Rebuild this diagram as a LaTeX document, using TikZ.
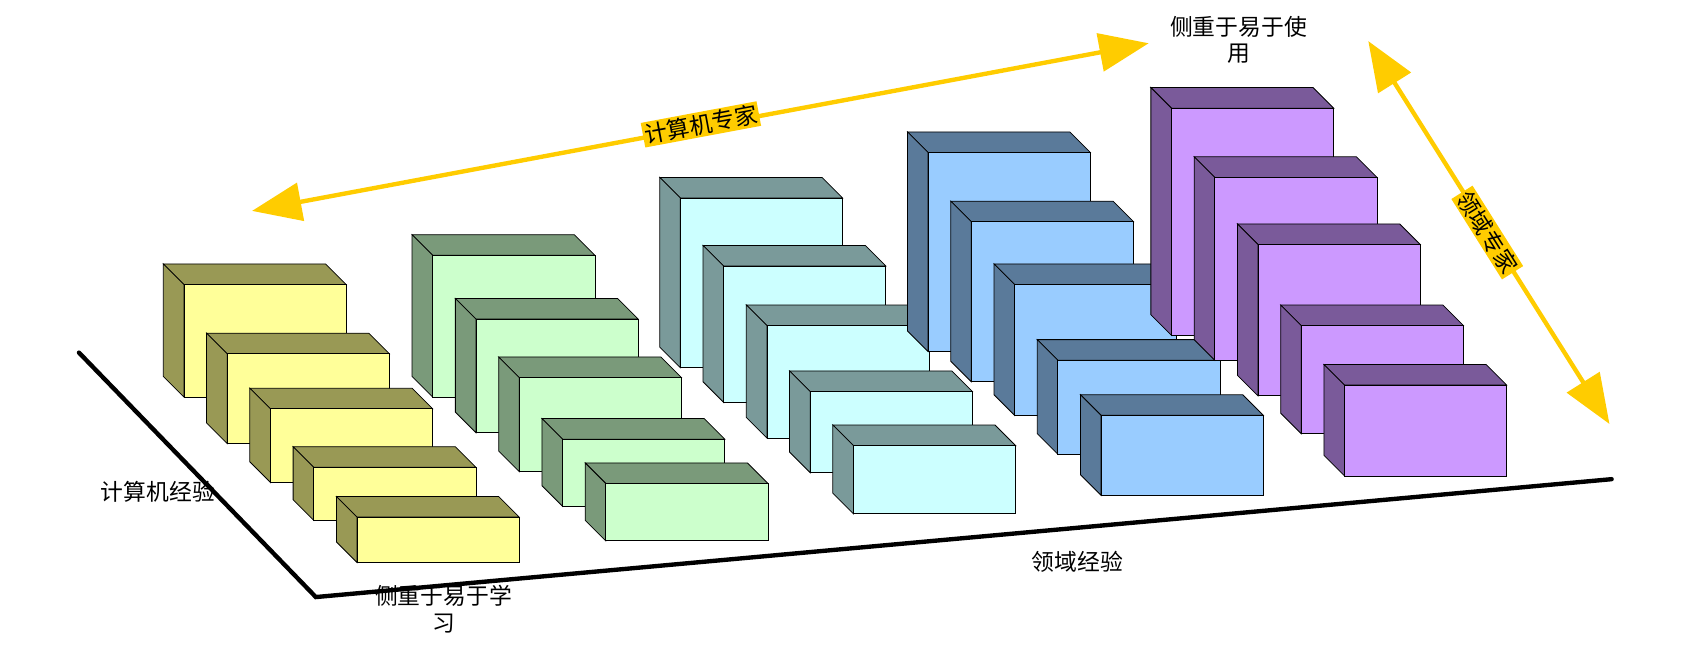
\documentclass[tikz,border=0pt]{standalone}
\usepackage{fontspec}
\setmainfont{Noto Sans CJK SC}
\usetikzlibrary{arrows.meta}
\definecolor{ylwF}{HTML}{FFFF99}\definecolor{ylwS}{HTML}{999955}
\definecolor{grnF}{HTML}{CCFFCC}\definecolor{grnS}{HTML}{7A9A7A}
\definecolor{cynF}{HTML}{CCFFFF}\definecolor{cynS}{HTML}{7A9A9A}
\definecolor{bluF}{HTML}{99CCFF}\definecolor{bluS}{HTML}{5A7A9A}
\definecolor{prpF}{HTML}{CC99FF}\definecolor{prpS}{HTML}{7A5A9A}
\definecolor{gold}{HTML}{FFCC00}
% cuboid: front rectangle corners, front colour, side colour
\newcommand{\cuboid}[6]{%
  \filldraw[draw=black, fill=#6, line width=0.4pt] (#1,#2) -- ++(-19,-19) -- ++(#3-#1,0) -- (#3,#2) -- cycle;
  \filldraw[draw=black, fill=#6, line width=0.4pt] (#1,#2) -- ++(-19,-19) -- ++(0,#4-#2) -- (#1,#4) -- cycle;
  \filldraw[draw=black, fill=#5, line width=0.4pt] (#1,#2) rectangle (#3,#4);}
\tikzset{
  axis/.style={line width=2.3pt, line cap=round},
  expert/.style={gold, line width=2.3pt, {Triangle[length=26pt,width=20pt]}-{Triangle[length=26pt,width=20pt]}},
  tag/.style={fill=gold, inner sep=1pt, font=\fontsize{12}{14}\selectfont},
  lbl/.style={align=center, font=\fontsize{12}{14}\selectfont}
}
\begin{document}
\begin{tikzpicture}[x=0.02cm, y=-0.02cm]
\useasboundingbox (0,0) rectangle (1568,614);
\draw[axis] (73,326) -- (292,552) -- (1490,443);
\foreach \xa/\ya/\xb/\yb in {170/263/320/367, 210/327/360/410, 250/378/400/446, 290/432/440/481, 330/478/480/520}
  {\cuboid{\xa}{\ya}{\xb}{\yb}{ylwF}{ylwS}}
\foreach \xa/\ya/\xb/\yb in {400/236/550/367, 440/295/590/400, 480/349/630/436, 520/406/670/468, 560/447/710/500}
  {\cuboid{\xa}{\ya}{\xb}{\yb}{grnF}{grnS}}
\foreach \xa/\ya/\xb/\yb in {629/183/779/340, 669/246/819/372, 709/301/859/405, 749/362/899/437, 789/412/939/475}
  {\cuboid{\xa}{\ya}{\xb}{\yb}{cynF}{cynS}}
\foreach \xa/\ya/\xb/\yb in {858/141/1008/325, 898/205/1048/353, 938/263/1088/384, 978/333/1128/420, 1018/384/1168/458}
  {\cuboid{\xa}{\ya}{\xb}{\yb}{bluF}{bluS}}
\foreach \xa/\ya/\xb/\yb in {1083/100/1233/310, 1123/164/1273/333, 1163/226/1313/366, 1203/301/1353/401, 1243/356/1393/440}
  {\cuboid{\xa}{\ya}{\xb}{\yb}{prpF}{prpS}}
% axis labels
\node[lbl] (cexp) at (146,455) {计算机经验};
\node[lbl] (dexp) at (996,519) {领域经验};
\node[lbl] (learn) at (410,563) {侧重于易于学\\习};
\node[lbl] (use) at (1145,37) {侧重于易于使\\用};
% experts
\coordinate (ca) at (233,195); \coordinate (cb) at (1062,40);
\coordinate (da) at (1265,38); \coordinate (db) at (1488,392);
\draw[expert] (ca) -- (cb);
\draw[expert] (da) -- (db);
\node[tag, rotate=10.6] (cs) at (648,115) {计算机专家};
\node[tag, rotate=-57.8] (ds) at (1375,215) {领域专家};
\end{tikzpicture}
\end{document}
